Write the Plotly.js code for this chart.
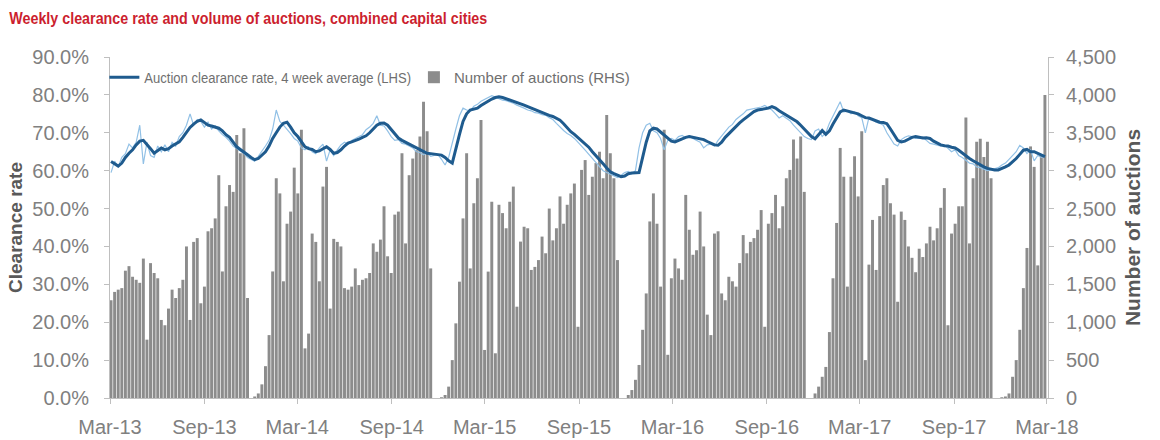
<!DOCTYPE html>
<html><head><meta charset="utf-8">
<script src="https://cdn.plot.ly/plotly-3.0.1.min.js"></script>
<style>
html,body{margin:0;padding:0;background:#fff;}
#chart{width:1160px;height:440px;}
/* the reference legend is set in a condensed face: squeeze the two legend labels to its widths */
#chart .legendtext{transform-box:fill-box;transform-origin:0 50%;}
#chart g.legend .legendtext{transform:scaleX(0.87);}
#chart g.legend2 .legendtext{transform:scaleX(0.845);}
</style>
</head><body><div id="chart"></div>
<script>
// Weekly series, first week ending Sunday 3 March 2013
const firstWeek = '2013-03-03';

// Number of auctions (RHS)
const auctions = [
1290,1400,1430,1450,1680,1740,1600,1560,1520,1840,
770,1780,1650,1580,1030,960,1180,1430,1320,1450,
1560,2000,1030,2060,2110,1250,1470,2200,2240,2370,
2940,1670,2530,2810,2720,3470,3230,3560,1320,
0,20,
60,180,420,830,1670,2900,2700,1540,2300,2460,
3040,2700,3540,655,850,2170,2060,1540,2790,3050,
1180,2100,2060,2000,1450,1430,1470,1710,1490,1560,
1580,1650,2040,1930,2090,2530,1870,1650,2420,2460,
3230,2040,2940,3160,3270,3450,3910,3520,1710,
0,0,10,
40,150,500,985,1535,2370,3230,1710,2570,2900,
3670,634,1668,2590,590,2550,2440,2240,2590,2790,
1205,2064,2260,2240,1690,1730,1820,2130,1910,2500,
2080,2240,2660,2300,2550,2700,2830,940,3010,3140,
2680,2920,3100,3250,2900,3735,3230,2900,1820,
0,0,
40,105,240,436,900,1380,2330,2700,2300,1470,3540,
570,1580,1840,1710,1560,2680,2220,1890,1950,2460,
2000,1100,830,2170,2200,1380,1290,1600,1540,1470,
1780,2150,1910,2060,2110,2220,2480,940,2300,2440,
2680,2240,2530,2900,3010,3410,3160,3450,2720,
0,0,
60,150,280,410,870,1580,2310,3300,2920,1470,
2920,3190,2660,3520,500,1760,2350,1690,2400,2810,
2900,2570,2420,1270,2460,2350,2000,1850,1660,1970,
1860,2040,2260,2080,2240,2510,2770,960,2170,2300,
2530,2530,3700,2040,2900,3380,3420,3180,3380,2900,
0,0,10,
20,60,280,500,900,1450,1980,3320,3050,1750,3200,4000
];

// Auction clearance rate, 4 week average (LHS), %
const clearance4wk = [
62.4,61.8,61.2,62.0,63.5,64.6,65.5,66.8,67.8,68.0,
67.0,65.8,64.6,65.2,66.0,65.5,65.8,66.5,67.0,67.6,
68.8,70.2,71.4,72.3,73.0,73.4,72.8,72.0,71.8,71.5,
71.2,70.5,69.5,68.8,67.5,66.3,65.6,65.0,64.2,63.5,
62.9,63.2,64.0,65.0,66.5,68.5,70.0,71.5,72.5,72.8,
71.5,70.0,69.0,67.8,66.3,65.8,65.6,65.0,65.2,65.8,
66.3,65.6,64.6,64.8,65.5,66.5,67.3,67.6,67.9,68.3,
68.8,69.2,70.0,71.0,72.0,72.5,72.6,72.0,70.8,69.5,
68.6,68.0,67.5,67.0,66.7,66.2,65.6,65.0,64.6,64.5,
64.4,64.2,64.1,63.5,62.6,62.0,66.0,69.5,73.0,75.0,
76.0,76.3,76.5,77.2,77.8,78.3,78.9,79.3,79.5,79.3,
79.0,78.6,78.3,78.0,77.6,77.3,76.9,76.5,76.0,75.6,
75.2,75.0,74.6,74.3,73.9,73.3,72.4,71.3,70.3,69.6,
68.8,68.0,67.2,66.2,65.0,64.0,63.0,61.8,60.7,59.7,
59.2,58.8,58.4,58.6,59.2,59.4,59.4,59.5,63.5,67.5,
70.5,71.2,71.0,70.2,69.4,68.5,67.8,67.6,68.0,68.5,
68.8,69.0,68.8,68.6,68.5,68.2,67.7,67.2,66.8,66.7,
67.5,68.8,69.8,70.8,71.7,72.6,73.4,74.2,75.0,75.6,
76.0,76.2,76.3,76.5,76.9,76.5,75.8,75.2,74.7,74.0,
73.4,72.9,72.0,71.0,70.0,69.0,68.4,69.5,70.6,69.6,
70.5,72.3,74.0,75.5,76.0,75.8,75.5,75.3,75.0,74.5,
74.0,73.9,73.5,73.0,72.8,72.7,72.4,71.0,69.3,68.0,
67.6,67.8,68.3,68.8,69.0,68.8,68.6,68.7,68.5,67.8,
67.3,66.8,66.6,66.5,66.2,66.0,65.4,64.6,63.8,63.2,
62.6,62.0,61.4,61.0,60.6,60.3,60.2,60.2,60.5,61.0,
61.5,62.3,63.2,64.3,65.4,65.6,65.0,65.0,64.6,64.0,
63.7
];

// Weekly clearance rate (thin line), %
const clearanceWeekly = [
59.5,62.5,61.0,63.5,64.5,67.0,66.0,67.5,72.0,61.8,
67.5,64.0,63.5,66.5,65.0,66.8,65.0,67.5,66.5,69.0,
70.0,72.0,75.0,72.0,73.5,73.0,71.5,72.8,71.0,71.8,
70.5,69.5,68.8,67.8,66.5,65.8,65.0,64.5,63.5,63.0,
62.5,63.8,65.0,66.5,68.0,71.0,76.0,73.0,72.0,71.0,
69.8,68.5,67.8,66.0,65.5,66.3,65.0,64.5,66.0,67.0,
62.5,65.5,64.0,65.5,66.8,67.5,67.0,68.0,68.5,69.0,
69.5,70.8,71.5,72.5,74.5,72.0,71.8,70.5,69.0,68.0,
68.2,67.2,67.0,66.5,66.0,65.0,64.8,64.2,64.8,63.8,
64.0,64.3,63.0,61.5,63.5,67.5,71.0,74.5,76.5,76.0,
75.8,77.0,77.5,78.3,78.8,79.5,79.8,79.4,79.0,78.6,
78.5,78.2,77.8,77.3,77.0,76.5,76.0,75.8,75.3,75.2,
74.8,74.6,74.0,73.5,72.5,71.5,70.6,69.8,69.3,68.5,
67.6,66.5,65.4,64.3,63.2,62.0,60.8,60.0,59.5,59.0,
58.5,58.2,58.8,59.5,59.8,59.2,60.0,66.0,70.0,72.0,
72.5,70.5,70.0,68.5,65.5,68.0,68.5,68.0,69.0,69.3,
68.7,69.2,68.5,68.0,67.5,66.0,66.8,67.0,66.5,68.0,
69.2,70.5,71.5,72.2,73.5,74.3,75.0,76.0,76.2,76.3,
76.5,76.8,77.2,76.5,76.0,75.0,73.9,74.5,73.8,73.2,
72.0,71.0,70.0,69.0,68.5,68.2,70.5,71.0,69.0,70.0,
72.5,74.5,76.5,78.2,75.5,75.8,75.0,75.5,74.5,74.0,
70.0,74.0,73.5,72.8,72.5,72.0,70.0,68.5,67.0,66.5,
68.2,68.8,69.2,69.0,68.5,68.5,68.9,68.0,67.2,67.0,
66.8,66.5,66.8,66.0,65.0,65.5,64.0,63.5,62.8,62.0,
61.8,61.0,60.8,60.3,60.0,60.2,60.5,60.8,61.5,62.0,
63.0,64.0,65.0,66.7,66.0,64.5,65.5,62.6,64.0,63.5,
63.8
];

if (auctions.length !== clearance4wk.length || auctions.length !== clearanceWeekly.length) {
  throw new Error('length mismatch ' + auctions.length + ' ' + clearance4wk.length + ' ' + clearanceWeekly.length);
}

function weekDates(start, n) {
  const d0 = Date.parse(start + 'T00:00:00Z');
  const out = [];
  for (let i = 0; i < n; i++) out.push(new Date(d0 + i * 7 * 86400000).toISOString().slice(0, 10));
  return out;
}
const weeks = weekDates(firstWeek, auctions.length);

const sans = '"Liberation Sans", Arial, sans-serif';
const axisGrey = '#bfbfbf';
const labelGrey = '#808080';
const titleGrey = '#595959';
const legendFont = {family:sans, size:15, color:'#6f6f6f'};

const data = [
  {type:'scatter', mode:'lines', x:weeks, y:clearanceWeekly, yaxis:'y2', showlegend:false,
   line:{color:'#92c1e6', width:1.2}, hoverinfo:'skip', name:'Weekly clearance rate'},
  {type:'scatter', mode:'lines', x:weeks, y:clearance4wk, yaxis:'y2', legend:'legend',
   name:'Auction clearance rate, 4 week average (LHS)', line:{color:'#1f5b8e', width:3}},
  {type:'bar', x:weeks, y:auctions, yaxis:'y', legend:'legend2', name:'Number of auctions (RHS)',
   marker:{color:'#8c8c8c', line:{width:0}}}
];

const layout = {
  width:1160, height:440,
  margin:{l:110, r:112, t:57, b:42, pad:0},
  paper_bgcolor:'#ffffff', plot_bgcolor:'#ffffff',
  font:{family:sans, color:labelGrey, size:20},
  title:{text:'Weekly clearance rate and volume of auctions, combined capital cities',
    x:0.008, xanchor:'left', y:0.958, yanchor:'middle',
    font:{family:sans, size:17, color:'#cc1f2f', weight:'bold'}},
  showlegend:true,
  legend:{orientation:'h', x:-0.006, xanchor:'left', y:0.94, yanchor:'middle',
    font:legendFont, itemwidth:30, bgcolor:'rgba(0,0,0,0)'},
  legend2:{orientation:'h', x:0.324, xanchor:'left', y:0.94, yanchor:'middle',
    font:legendFont, itemwidth:30, bgcolor:'rgba(0,0,0,0)'},
  bargap:0.18,
  xaxis:{type:'date', range:['2013-03-01','2018-03-03'], tick0:'2013-03-01', dtick:'M6', tickformat:'%b-%y',
    ticks:'outside', ticklen:5, tickcolor:axisGrey, showline:true, linecolor:axisGrey, linewidth:1,
    showgrid:false, zeroline:false, tickfont:{family:sans, size:20, color:labelGrey}, ticklabelstandoff:6},
  yaxis:{side:'right', range:[0,4500], dtick:500, tickformat:',d', ticks:'outside', ticklen:5,
    tickcolor:axisGrey, showline:true, linecolor:axisGrey, showgrid:false, zeroline:false,
    tickfont:{family:sans, size:20, color:labelGrey}, ticklabelstandoff:8,
    title:{text:'Number of auctions', font:{family:sans, size:21, color:titleGrey, weight:'bold'}, standoff:10}},
  yaxis2:{overlaying:'y', side:'left', range:[0,90], dtick:10, tickformat:'.1f', ticksuffix:'%',
    ticks:'outside', ticklen:5, tickcolor:axisGrey, showline:true, linecolor:axisGrey, showgrid:false, zeroline:false,
    tickfont:{family:sans, size:20, color:labelGrey}, ticklabelstandoff:11,
    title:{text:'Clearance rate', font:{family:sans, size:19, color:titleGrey, weight:'bold'}, standoff:4}}
};

// The reference title is set in a condensed face; squeeze it to the same width.
const titleWidth = 478;

Plotly.newPlot('chart', data, layout, {displayModeBar:false, staticPlot:true}).then(function(gd) {
  const t = gd.querySelector('text.gtitle');
  if (t) { t.setAttribute('textLength', titleWidth); t.setAttribute('lengthAdjust', 'spacingAndGlyphs'); }
});
</script>
</body></html>
